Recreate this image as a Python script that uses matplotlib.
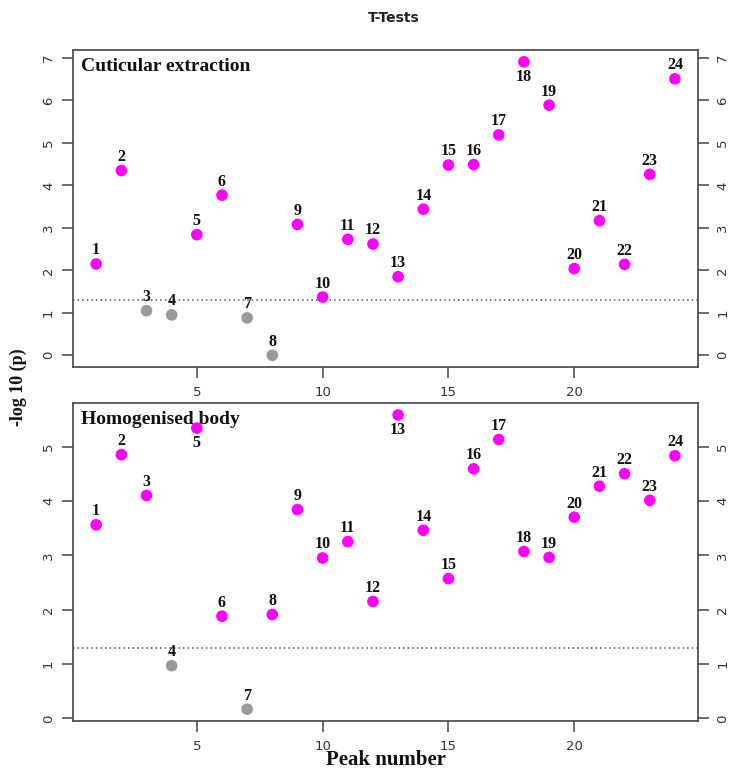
import matplotlib
matplotlib.use("Agg")
import matplotlib.pyplot as plt

peaks = list(range(1, 25))
cuticular = [2.15, 4.35, 1.05, 0.95, 2.84, 3.77, 0.88, 0.0, 3.08, 1.37, 2.73, 2.62,
             1.85, 3.44, 4.48, 4.49, 5.19, 6.91, 5.89, 2.04, 3.17, 2.14, 4.26, 6.51]
homogenised = [3.56, 4.85, 4.10, 0.97, 5.34, 1.88, 0.17, 1.91, 3.84, 2.95, 3.25, 2.15,
               5.58, 3.46, 2.57, 4.59, 5.13, 3.07, 2.96, 3.70, 4.27, 4.50, 4.01, 4.83]
threshold = 1.30103
below_cut = {"Cuticular extraction": [18], "Homogenised body": [5, 13]}
xticks = [5, 10, 15, 20]
yticks_top = [0, 1, 2, 3, 4, 5, 6, 7]
yticks_bot = [0, 1, 2, 3, 4, 5]

SIG = "#ff00ff"
NS = "#999999"
SERIF = ["Liberation Serif", "DejaVu Serif"]

fig = plt.figure(figsize=(7.31, 7.71), dpi=100)
ax1 = fig.add_axes([0.0999, 0.524, 0.855, 0.411])
ax2 = fig.add_axes([0.0999, 0.065, 0.855, 0.412])

def panel(ax, vals, title, yticks):
    cols = [SIG if v > threshold else NS for v in vals]
    ax.scatter(peaks, vals, c=cols, s=70, edgecolors="none", zorder=3)
    for p, v in zip(peaks, vals):
        if p in below_cut[title]:
            ax.annotate(str(p), (p, v), xytext=(0, -5), textcoords="offset points",
                        ha="center", va="top", fontsize=11.5, fontweight="bold",
                        family=SERIF, color="#111111")
        else:
            ax.annotate(str(p), (p, v), xytext=(0, 4), textcoords="offset points",
                        ha="center", va="bottom", fontsize=11.5, fontweight="bold",
                        family=SERIF, color="#111111")
    ax.axhline(threshold, color="#555555", linestyle=(0, (1, 2)), linewidth=1.1, zorder=1)
    lo, hi = min(vals), max(vals)
    pad = (hi - lo) * 0.04
    ax.set_ylim(lo - pad, hi + pad)
    ax.set_xlim(1 - 23 * 0.04, 24 + 23 * 0.04)
    ax.set_xticks(xticks)
    ax.set_yticks(yticks)
    ax.tick_params(axis="y", which="both", left=True, right=True, labelleft=True,
                   labelright=True, length=8, width=1.1, color="#444444",
                   labelsize=9.5, labelcolor="#333333", labelrotation=90, pad=5)
    ax.tick_params(axis="x", length=8, width=1.1, color="#444444", labelsize=9.5,
                   labelcolor="#333333", pad=6)
    for s in ax.spines.values():
        s.set_color("#444444")
        s.set_linewidth(1.2)
    ax.text(0.012, 0.975, title, transform=ax.transAxes, ha="left", va="top",
            fontsize=14, fontweight="bold", family=SERIF, color="#111111")

panel(ax1, cuticular, "Cuticular extraction", yticks_top)
panel(ax2, homogenised, "Homogenised body", yticks_bot)

for ax in (ax1, ax2):
    for lab in ax.get_yticklabels():
        lab.set_rotation(90)
        lab.set_va("center")

fig.text(0.538, 0.977, "T-Tests", ha="center", va="center", fontsize=10,
         fontweight="bold", family="DejaVu Sans", color="#222222")
fig.text(0.528, 0.001, "Peak number", ha="center", va="bottom", fontsize=15,
         fontweight="bold", family=SERIF, color="#111111")
fig.text(0.025, 0.498, "-log 10 (p)", ha="center", va="center", rotation=90,
         fontsize=13, fontweight="bold", family=SERIF, color="#111111")

fig.savefig("out.png", dpi=100)
